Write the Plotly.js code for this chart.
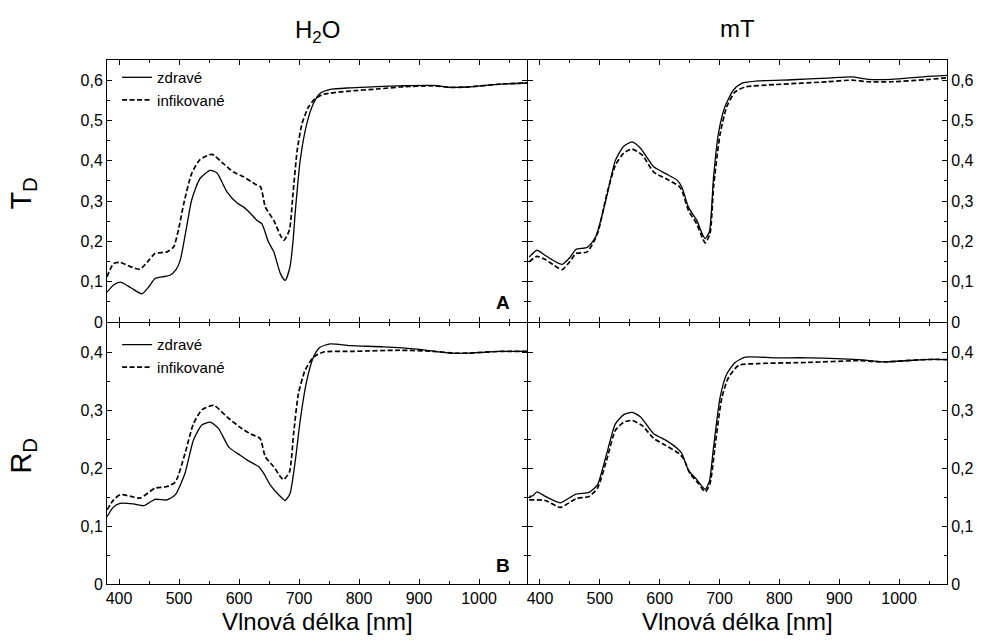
<!DOCTYPE html>
<html>
<head>
<meta charset="utf-8">
<script src="https://cdn.plot.ly/plotly-3.0.1.min.js"></script>
<style>html,body{margin:0;padding:0;background:#fff;}#chart{width:984px;height:641px;}</style>
</head>
<body>
<div id="chart"></div>
<script>
// ---- Data ----
// Panel A: T_D, H2O
var tdH2oZdraveWl = [380,391,402,420,438,450,460,472,485,495,502,512,521,535,552,563,580,597,608,620,630,638,649,658,669,677,685,690,694,702,713,724,735,752,785,830,869,924,952,980,1035,1080];
var tdH2oZdrave   = [0.074,0.092,0.099,0.085,0.070,0.088,0.108,0.112,0.116,0.130,0.153,0.230,0.302,0.356,0.376,0.370,0.323,0.295,0.285,0.268,0.252,0.244,0.199,0.174,0.120,0.103,0.137,0.200,0.277,0.401,0.492,0.542,0.567,0.577,0.581,0.584,0.586,0.587,0.582,0.583,0.590,0.593];
var tdH2oInfWl = [380,391,402,418,435,448,460,480,491,500,508,521,535,555,574,591,608,627,636,644,658,669,675,684,690,697,705,716,727,741,785,830,869,924,952,980,1035,1080];
var tdH2oInf   = [0.112,0.145,0.148,0.138,0.131,0.150,0.170,0.174,0.186,0.235,0.294,0.368,0.403,0.416,0.393,0.372,0.360,0.342,0.335,0.285,0.252,0.215,0.203,0.228,0.319,0.426,0.492,0.534,0.554,0.565,0.573,0.578,0.583,0.586,0.582,0.583,0.590,0.593];
// T_D, mT
var tdMtZdraveWl = [382,395,409,423,437,450,460,479,493,510,526,540,554,568,590,610,629,637,648,662,671,676,683,690,698,709,723,737,765,821,880,921,948,987,1043,1080];
var tdMtZdrave   = [0.161,0.178,0.165,0.152,0.143,0.160,0.180,0.185,0.211,0.302,0.401,0.436,0.447,0.431,0.385,0.368,0.352,0.335,0.285,0.252,0.219,0.207,0.224,0.360,0.467,0.534,0.575,0.592,0.598,0.601,0.605,0.608,0.602,0.602,0.609,0.612];
var tdMtInfWl = [382,395,409,423,437,450,460,479,496,512,526,540,554,571,590,610,632,637,648,662,671,676,684,690,701,712,726,743,793,880,921,948,987,1043,1080];
var tdMtInf   = [0.149,0.163,0.155,0.141,0.130,0.150,0.170,0.174,0.219,0.319,0.389,0.419,0.429,0.414,0.372,0.356,0.337,0.327,0.277,0.243,0.210,0.196,0.219,0.335,0.467,0.534,0.571,0.583,0.589,0.596,0.600,0.596,0.596,0.601,0.606];
// Panel B: R_D, H2O
var rdH2oZdraveWl = [380,391,402,424,441,460,480,494,510,524,538,552,566,583,602,613,633,641,652,666,677,685,694,702,713,724,735,752,785,841,897,952,980,1035,1080];
var rdH2oZdrave   = [0.116,0.133,0.139,0.138,0.135,0.146,0.145,0.154,0.191,0.248,0.274,0.279,0.268,0.236,0.222,0.214,0.202,0.191,0.171,0.154,0.144,0.156,0.214,0.282,0.351,0.391,0.408,0.414,0.411,0.409,0.405,0.398,0.398,0.401,0.401];
var rdH2oInfWl = [380,391,402,420,435,460,480,494,510,524,538,558,580,602,619,635,644,658,669,674,684,691,699,710,724,741,785,869,924,958,980,1035,1080];
var rdH2oInf   = [0.128,0.145,0.154,0.151,0.148,0.165,0.168,0.176,0.225,0.276,0.300,0.308,0.288,0.270,0.259,0.251,0.219,0.202,0.185,0.180,0.193,0.259,0.328,0.368,0.391,0.400,0.401,0.403,0.401,0.398,0.398,0.401,0.401];
// R_D, mT
var rdMtZdraveWl = [382,388,395,409,434,460,482,496,510,526,540,554,568,590,610,629,637,648,662,671,676,683,690,701,712,726,743,793,848,932,976,1043,1080];
var rdMtZdrave   = [0.151,0.152,0.159,0.151,0.140,0.155,0.158,0.171,0.219,0.276,0.292,0.296,0.288,0.259,0.248,0.234,0.225,0.196,0.180,0.168,0.163,0.177,0.236,0.322,0.362,0.382,0.391,0.390,0.390,0.387,0.383,0.387,0.387];
var rdMtInfWl = [382,409,434,460,482,496,512,526,540,554,571,590,610,632,640,651,665,676,684,693,704,715,732,765,848,932,976,1043,1080];
var rdMtInf   = [0.145,0.144,0.132,0.147,0.151,0.165,0.216,0.265,0.279,0.282,0.273,0.251,0.239,0.225,0.216,0.190,0.173,0.159,0.173,0.242,0.322,0.356,0.377,0.380,0.382,0.385,0.383,0.387,0.387];

var seriesNames = ['zdravé', 'infikované'];
var columnTitles = ['H<sub>2</sub>O', 'mT'];
var rowTitles = ['T<sub>D</sub>', 'R<sub>D</sub>'];
var panelLetters = ['A', 'B'];
var xTitle = 'Vlnová délka [nm]';
var xTickVals = [400, 500, 600, 700, 800, 900, 1000];

// ---- Build traces ----
var solid = {color: '#000', width: 1.3, shape: 'spline', smoothing: 0.6};
var dashed = {color: '#000', width: 1.7, dash: '5px,2.5px', shape: 'spline', smoothing: 0.6};
function tr(x, y, name, line, xa, ya, show, leg) {
  return {x: x, y: y, name: name, type: 'scatter', mode: 'lines', line: line,
          xaxis: xa, yaxis: ya, showlegend: show, legend: leg, hoverinfo: 'skip'};
}
var data = [
  tr(tdH2oZdraveWl, tdH2oZdrave, seriesNames[0], solid, 'x', 'y', true, 'legend'),
  tr(tdH2oInfWl, tdH2oInf, seriesNames[1], dashed, 'x', 'y', true, 'legend'),
  tr(tdMtZdraveWl, tdMtZdrave, seriesNames[0], solid, 'x2', 'y2', false, 'legend'),
  tr(tdMtInfWl, tdMtInf, seriesNames[1], dashed, 'x2', 'y2', false, 'legend'),
  tr(rdH2oZdraveWl, rdH2oZdrave, seriesNames[0], solid, 'x3', 'y3', true, 'legend2'),
  tr(rdH2oInfWl, rdH2oInf, seriesNames[1], dashed, 'x3', 'y3', true, 'legend2'),
  tr(rdMtZdraveWl, rdMtZdrave, seriesNames[0], solid, 'x4', 'y4', false, 'legend2'),
  tr(rdMtInfWl, rdMtInf, seriesNames[1], dashed, 'x4', 'y4', false, 'legend2')
];

var fam = 'Liberation Sans, Arial, sans-serif';
var tickFont = {family: fam, size: 16, color: '#000'};
function xax(domain, anchor, labels) {
  return {domain: domain, anchor: anchor, range: [380, 1080], tickvals: xTickVals,
    ticks: 'inside', ticklen: 5, tickwidth: 1, tickcolor: '#000',
    minor: {dtick: 50, tick0: 0, ticks: 'inside', ticklen: 3, tickcolor: '#000'},
    showline: true, linecolor: '#000', linewidth: 1, mirror: 'ticks',
    showgrid: false, zeroline: false, showticklabels: labels, tickfont: tickFont, fixedrange: true};
}
function yax(domain, anchor, range, side) {
  return {domain: domain, anchor: anchor, range: range, dtick: 0.1, tick0: 0, side: side,
    ticks: 'inside', ticklen: 5, tickwidth: 1, tickcolor: '#000',
    minor: {dtick: 0.05, tick0: 0, ticks: 'inside', ticklen: 3, tickcolor: '#000'},
    showline: true, linecolor: '#000', linewidth: 1, mirror: 'ticks',
    showgrid: false, zeroline: false, tickfont: tickFont, fixedrange: true};
}

var px = 1 / 840, py = 1 / 524;
var leftDom = [0, 0.5], rightDom = [0.5 + px, 1];
var topDom = [0.5, 1], botDom = [0, 0.5 - py];

var titleFont = {family: fam, size: 24, color: '#000'};
var legendFont = {family: fam, size: 15, color: '#000'};
var layout = {
  width: 984, height: 641,
  margin: {l: 107, r: 37, t: 60, b: 57, pad: 0},
  paper_bgcolor: '#fff', plot_bgcolor: '#fff',
  separators: ',.',
  xaxis: xax(leftDom, 'y', false),
  yaxis: yax(topDom, 'x', [0, 0.65], 'left'),
  xaxis2: xax(rightDom, 'y2', false),
  yaxis2: yax(topDom, 'x2', [0, 0.65], 'right'),
  xaxis3: xax(leftDom, 'y3', true),
  yaxis3: yax(botDom, 'x3', [0, 0.45], 'left'),
  xaxis4: xax(rightDom, 'y4', true),
  yaxis4: yax(botDom, 'x4', [0, 0.45], 'right'),
  legend: {x: 0.012, y: 0.998, xanchor: 'left', yanchor: 'top', bgcolor: 'rgba(0,0,0,0)',
           font: legendFont, tracegroupgap: 0, itemwidth: 30},
  legend2: {x: 0.012, y: 0.488, xanchor: 'left', yanchor: 'top', bgcolor: 'rgba(0,0,0,0)',
            font: legendFont, tracegroupgap: 0, itemwidth: 30},
  showlegend: true,
  annotations: [
    {text: columnTitles[0], xref: 'paper', yref: 'paper', x: 0.25, y: 1.055, xanchor: 'center', yanchor: 'middle', showarrow: false, font: titleFont},
    {text: columnTitles[1], xref: 'paper', yref: 'paper', x: 0.75, y: 1.06, xanchor: 'center', yanchor: 'middle', showarrow: false, font: titleFont},
    {text: rowTitles[0], xref: 'paper', yref: 'paper', x: -0.1, y: 0.745, xanchor: 'center', yanchor: 'middle', textangle: -90, showarrow: false, font: {family: fam, size: 29, color: '#000'}},
    {text: rowTitles[1], xref: 'paper', yref: 'paper', x: -0.1, y: 0.245, xanchor: 'center', yanchor: 'middle', textangle: -90, showarrow: false, font: {family: fam, size: 29, color: '#000'}},
    {text: xTitle, xref: 'paper', yref: 'paper', x: 0.25, y: -0.072, xanchor: 'center', yanchor: 'middle', showarrow: false, font: titleFont},
    {text: xTitle, xref: 'paper', yref: 'paper', x: 0.75, y: -0.072, xanchor: 'center', yanchor: 'middle', showarrow: false, font: titleFont},
    {text: '<b>' + panelLetters[0] + '</b>', xref: 'paper', yref: 'paper', x: 0.4715, y: 0.537, xanchor: 'center', yanchor: 'middle', showarrow: false, font: {family: fam, size: 19, color: '#000'}},
    {text: '<b>' + panelLetters[1] + '</b>', xref: 'paper', yref: 'paper', x: 0.4715, y: 0.035, xanchor: 'center', yanchor: 'middle', showarrow: false, font: {family: fam, size: 19, color: '#000'}}
  ]
};

Plotly.newPlot('chart', data, layout, {displayModeBar: false, staticPlot: true});
</script>
</body>
</html>
